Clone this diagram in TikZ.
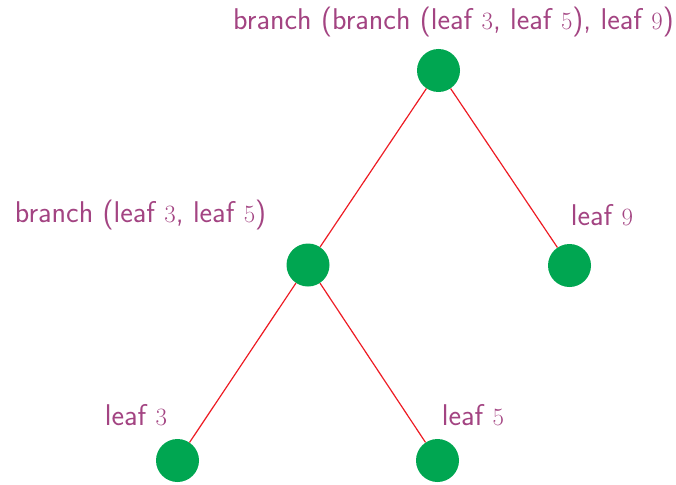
\documentclass[tikz,border=0pt]{standalone}
\usepackage{fontspec}
\begin{document}
\begin{tikzpicture}[x=1pt,y=-1pt,
  dot/.style={circle,fill=dotgreen,minimum size=43pt,inner sep=0pt},
  lbl/.style={text=lblpurple,font=\sffamily\fontsize{30}{36}\selectfont,inner sep=0pt},
  edge/.style={draw=edgered,line width=1.2pt}]
\definecolor{dotgreen}{RGB}{0,166,81}
\definecolor{lblpurple}{RGB}{163,68,130}
\definecolor{edgered}{RGB}{237,28,36}
\useasboundingbox (0,0) rectangle (676,484);
\node[dot] (root) at (438.5,70.5) {};
\node[dot] (ml) at (308,265) {};
\node[dot] (r) at (569.5,265.5) {};
\node[dot] (ll) at (177.5,460.5) {};
\node[dot] (lr) at (437.5,460.5) {};
\node[lbl] (troot) at (453.5,22) {branch (branch (leaf $3$, leaf $5$), leaf $9$)};
\node[lbl] (tml) at (140.5,215) {branch (leaf $3$, leaf $5$)};
\node[lbl] (tr) at (602,215) {leaf $9$};
\node[lbl] (tll) at (136,415) {leaf $3$};
\node[lbl] (tlr) at (473,415) {leaf $5$};
\draw[edge] (root) -- (ml);
\draw[edge] (root) -- (r);
\draw[edge] (ml) -- (ll);
\draw[edge] (ml) -- (lr);
\end{tikzpicture}
\end{document}
